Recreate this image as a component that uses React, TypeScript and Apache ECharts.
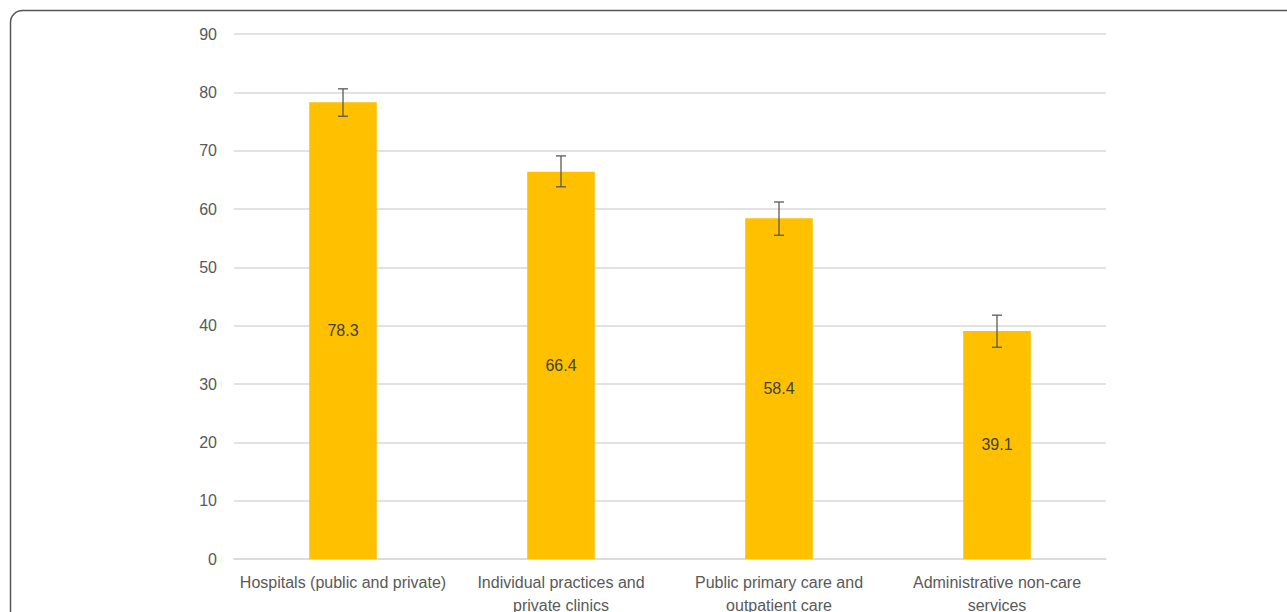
import React, { useEffect, useRef } from "react";
import * as echarts from "echarts";

const categories = [
  "Hospitals (public and private)",
  "Individual practices and\nprivate clinics",
  "Public primary care and\noutpatient care",
  "Administrative non-care\nservices",
];
const values = [78.3, 66.4, 58.4, 39.1];
const errLow = [75.9, 63.8, 55.5, 36.3];
const errHigh = [80.6, 69.1, 61.2, 41.8];

export default function App() {
  const ref = useRef<HTMLDivElement>(null);
  useEffect(() => {
    if (!ref.current) return;
    const chart = echarts.init(ref.current, null, { renderer: "svg" });
    const font = "'Liberation Sans', Arial, sans-serif";
    chart.setOption({
      animation: false,
      backgroundColor: "#ffffff",
      graphic: [
        {
          type: "rect",
          shape: { x: 10.5, y: 10.5, width: 1400, height: 800, r: 12 },
          style: { fill: "none", stroke: "#555555", lineWidth: 1.5 },
          silent: true,
        },
      ],
      grid: {
        left: 234,
        right: 181,
        top: 34,
        bottom: 53,
        containLabel: false,
        outerBoundsMode: "none",
      },
      xAxis: {
        type: "category",
        data: categories,
        axisLine: { show: true, lineStyle: { color: "#d9d9d9", width: 1.5 } },
        axisTick: { show: false },
        axisLabel: {
          color: "#595959",
          fontSize: 16,
          fontFamily: font,
          margin: 12,
          lineHeight: 23,
          interval: 0,
        },
      },
      yAxis: {
        type: "value",
        min: 0,
        max: 90,
        interval: 10,
        axisLine: { show: false },
        axisTick: { show: false },
        splitLine: { lineStyle: { color: "#d9d9d9", width: 1.5 } },
        axisLabel: { color: "#595959", fontSize: 16, fontFamily: font, margin: 17 },
      },
      series: [
        {
          type: "bar",
          data: values,
          barWidth: "31%",
          itemStyle: { color: "#ffc000" },
          label: {
            show: true,
            position: "inside",
            color: "#404040",
            fontSize: 16,
            fontFamily: font,
          },
        },
        {
          type: "custom",
          data: values.map((_, i) => [i, errLow[i], errHigh[i]]),
          z: 10,
          renderItem: (params: any, api: any) => {
            const x = api.value(0);
            const lo = api.coord([x, api.value(1)]);
            const hi = api.coord([x, api.value(2)]);
            const hw = 5;
            const style = { stroke: "#595959", lineWidth: 1.3 };
            return {
              type: "group",
              children: [
                { type: "line", shape: { x1: lo[0], y1: lo[1], x2: hi[0], y2: hi[1] }, style },
                { type: "line", shape: { x1: lo[0] - hw, y1: lo[1], x2: lo[0] + hw, y2: lo[1] }, style },
                { type: "line", shape: { x1: hi[0] - hw, y1: hi[1], x2: hi[0] + hw, y2: hi[1] }, style },
              ],
            };
          },
        },
      ],
    });
    return () => chart.dispose();
  }, []);
  return (
    <div
      ref={ref}
      style={{ position: "fixed", left: 0, top: 0, width: 1287, height: 612 }}
    />
  );
}
